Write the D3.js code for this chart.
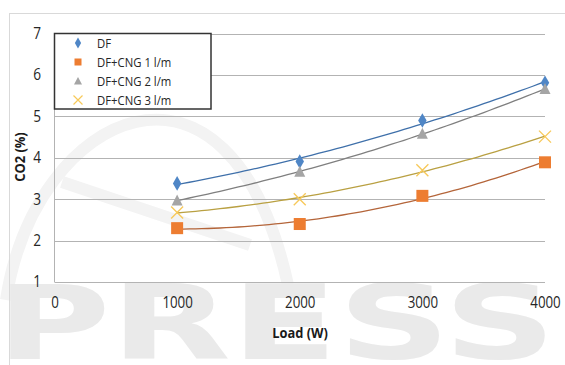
<!DOCTYPE html>
<html>
<head>
<meta charset="utf-8">
<script src="https://cdn.jsdelivr.net/npm/d3@7"></script>
<style>
  html, body { margin: 0; padding: 0; background: #fff; }
  svg { display: block; }
</style>
</head>
<body>
<svg id="chart" width="565" height="365"></svg>
<script>
// Load steps (W) and CO2 readings (%) for each fuel mode
const loads = [1000, 2000, 3000, 4000];
const seriesNames = ["DF", "DF+CNG 1 l/m", "DF+CNG 2 l/m", "DF+CNG 3 l/m"];
const dfValues = [3.38, 3.91, 4.90, 5.81];
const cng1Values = [2.30, 2.40, 3.08, 3.89];
const cng2Values = [2.97, 3.66, 4.58, 5.66];
const cng3Values = [2.68, 3.00, 3.70, 4.51];
const xTicks = [0, 1000, 2000, 3000, 4000];
const yTicks = [1, 2, 3, 4, 5, 6, 7];

const series = [
  { name: seriesNames[0], values: dfValues, marker: "diamond", fill: "#4f86c6", line: "#3f70aa" },
  { name: seriesNames[1], values: cng1Values, marker: "square", fill: "#ed7d31", line: "#b4653a" },
  { name: seriesNames[2], values: cng2Values, marker: "triangle", fill: "#a5a5a5", line: "#7f7f7f" },
  { name: seriesNames[3], values: cng3Values, marker: "cross", fill: "#f7c95a", line: "#b9a042" }
];

const svg = d3.select("#chart");
const FONT = "'Open Sans', sans-serif";

// Faint publisher watermark behind everything
const wm = svg.append("g").attr("fill", "none").attr("stroke", "#f3f3f3").attr("stroke-width", 12);
wm.append("path").attr("d", "M 6 300 C 35 110, 230 20, 288 285");
wm.append("path").attr("d", "M 62 182 L 250 245");
svg.append("text")
  .attr("x", -4).attr("y", 359)
  .attr("font-family", "'DejaVu Sans', sans-serif")
  .attr("font-weight", "bold")
  .attr("font-size", 104)
  .attr("textLength", 560)
  .attr("lengthAdjust", "spacingAndGlyphs")
  .attr("fill", "#eaeaea")
  .text("PRESS");

// Outer chart frame
svg.append("rect")
  .attr("x", 9.5).attr("y", 13.5).attr("width", 620).attr("height", 420)
  .attr("fill", "none").attr("stroke", "#d9d9d9");

const x = d3.scaleLinear().domain([0, 4000]).range([54.5, 545]);
const y = d3.scaleLinear().domain([1, 7]).range([282, 33.5]);

// Horizontal gridlines
svg.append("g")
  .selectAll("line")
  .data(yTicks)
  .join("line")
  .attr("x1", x(0)).attr("x2", x(4000))
  .attr("y1", d => Math.round(y(d)) + 0.5).attr("y2", d => Math.round(y(d)) + 0.5)
  .attr("stroke", "#b3b3b3").attr("stroke-width", 1);

// Vertical axis line
svg.append("line")
  .attr("x1", x(0)).attr("x2", x(0))
  .attr("y1", y(7)).attr("y2", y(1))
  .attr("stroke", "#b3b3b3");

// Axes (labels only, no tick marks or domain); glyphs narrowed slightly
const yAxis = d3.axisLeft(y).tickValues(yTicks).tickSize(0).tickPadding(0).tickFormat(d3.format("d"));
const gy = svg.append("g").attr("transform", "translate(41,0)").call(yAxis);
gy.select(".domain").remove();
gy.selectAll("text").attr("font-family", FONT).attr("font-size", 15.5).attr("fill", "#262626")
  .attr("transform", "scale(0.88,1)");

const xAxis = d3.axisBottom(x).tickValues(xTicks).tickSize(0).tickPadding(0).tickFormat(d3.format("d"));
const gx = svg.append("g").attr("transform", "translate(0,297)").call(xAxis);
gx.select(".domain").remove();
gx.selectAll("text").attr("font-family", FONT).attr("font-size", 15.5).attr("fill", "#262626")
  .attr("transform", "scale(0.86,1)");

// Axis titles
svg.append("text")
  .attr("transform", "translate(300,338) scale(0.92,1)")
  .attr("text-anchor", "middle")
  .attr("font-family", FONT).attr("font-weight", "bold").attr("font-size", 14)
  .attr("fill", "#1a1a1a")
  .text("Load (W)");
svg.append("text")
  .attr("transform", "translate(25,157) rotate(-90) scale(0.92,1)")
  .attr("text-anchor", "middle")
  .attr("font-family", FONT).attr("font-weight", "bold").attr("font-size", 14)
  .attr("fill", "#1a1a1a")
  .text("CO2 (%)");

// Second-order polynomial trendline by least squares
function quadFit(xs, ys) {
  const u = xs.map(v => v / 1000);
  let S = [0, 0, 0, 0, 0], T = [0, 0, 0];
  u.forEach((a, i) => {
    for (let k = 0; k <= 4; k++) S[k] += Math.pow(a, k);
    for (let k = 0; k <= 2; k++) T[k] += Math.pow(a, k) * ys[i];
  });
  const M = [[S[0], S[1], S[2], T[0]], [S[1], S[2], S[3], T[1]], [S[2], S[3], S[4], T[2]]];
  for (let c = 0; c < 3; c++) {
    for (let r = c + 1; r < 3; r++) {
      const f = M[r][c] / M[c][c];
      for (let k = c; k < 4; k++) M[r][k] -= f * M[c][k];
    }
  }
  const coef = [0, 0, 0];
  for (let r = 2; r >= 0; r--) {
    let s = M[r][3];
    for (let k = r + 1; k < 3; k++) s -= M[r][k] * coef[k];
    coef[r] = s / M[r][r];
  }
  return v => { const a = v / 1000; return coef[0] + coef[1] * a + coef[2] * a * a; };
}

const line = d3.line().x(d => x(d[0])).y(d => y(d[1]));
const span = d3.range(1000, 4001, 50);

series.forEach(s => {
  const f = quadFit(loads, s.values);
  svg.append("path")
    .attr("d", line(span.map(v => [v, f(v)])))
    .attr("fill", "none").attr("stroke", s.line).attr("stroke-width", 1.3);
});

function drawMarker(g, type, cx, cy, s) {
  if (type === "diamond") {
    g.append("path").attr("d", d3.symbol(d3.symbolDiamond, 62)())
      .attr("transform", `translate(${cx},${cy})`).attr("fill", s.fill);
  } else if (type === "square") {
    g.append("rect").attr("x", cx - 6).attr("y", cy - 6).attr("width", 12).attr("height", 12)
      .attr("fill", s.fill);
  } else if (type === "triangle") {
    g.append("path").attr("d", `M${cx},${cy - 6} L${cx + 5.5},${cy + 5} L${cx - 5.5},${cy + 5} Z`)
      .attr("fill", s.fill);
  } else {
    g.append("path").attr("d", `M${cx - 6},${cy - 6} L${cx + 6},${cy + 6} M${cx + 6},${cy - 6} L${cx - 6},${cy + 6}`)
      .attr("stroke", s.fill).attr("stroke-width", 1.4).attr("fill", "none");
  }
}

const markers = svg.append("g");
series.forEach(s => {
  loads.forEach((l, i) => drawMarker(markers, s.marker, x(l), y(s.values[i]), s));
});

// Legend box
const legend = svg.append("g");
legend.append("rect")
  .attr("x", 54.5).attr("y", 33.5).attr("width", 156.5).attr("height", 75.5)
  .attr("fill", "#fff").attr("stroke", "#333").attr("stroke-width", 1.5);
series.forEach((s, i) => {
  const ly = 43 + i * 19;
  if (s.marker === "diamond") {
    legend.append("path").attr("d", d3.symbol(d3.symbolDiamond, 34)())
      .attr("transform", `translate(78,${ly})`).attr("fill", s.fill);
  } else if (s.marker === "square") {
    legend.append("rect").attr("x", 74.5).attr("y", ly - 3.5).attr("width", 7).attr("height", 7).attr("fill", s.fill);
  } else if (s.marker === "triangle") {
    legend.append("path").attr("d", `M78,${ly - 4} L82,${ly + 3.5} L74,${ly + 3.5} Z`).attr("fill", s.fill);
  } else {
    legend.append("path").attr("d", `M73.5,${ly - 4.5} L82.5,${ly + 4.5} M82.5,${ly - 4.5} L73.5,${ly + 4.5}`)
      .attr("stroke", s.fill).attr("stroke-width", 1.2);
  }
  legend.append("text")
    .attr("transform", `translate(97,${ly + 5}) scale(0.84,1)`)
    .attr("font-family", FONT).attr("font-size", 13.5).attr("fill", "#262626")
    .text(s.name);
});
</script>
</body>
</html>
